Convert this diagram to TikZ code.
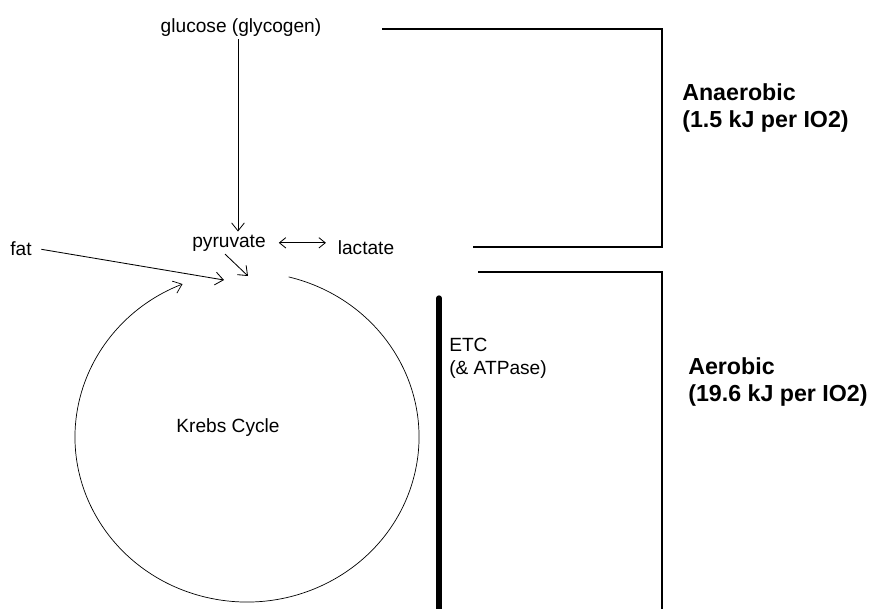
\documentclass[tikz,border=0pt]{standalone}
\usepackage{fontspec}
\setmainfont{Liberation Sans}
\usetikzlibrary{arrows.meta}
\begin{document}
\begin{tikzpicture}[
    x=0.025cm, y=0.025cm,
    lbl/.style={inner sep=2pt, font=\fontsize{13.6}{16.5}\selectfont},
    tag/.style={inner sep=0pt, align=left, font=\fontsize{16.5}{19.8}\selectfont\bfseries},
    arrow/.style={-{Straight Barb[length=2mm,width=3.2mm]}, line width=0.6pt},
    both/.style={{Straight Barb[length=1.6mm,width=2.6mm]}-{Straight Barb[length=1.6mm,width=2.6mm]}, line width=0.6pt},
    bracket/.style={line width=1.4pt},
    etcbar/.style={line width=3.8pt, line cap=round}
]
\useasboundingbox (0,0) rectangle (872,-608);

% Metabolites
\node[lbl, anchor=base] (glucose) at (241,-32) {glucose (glycogen)};
\node[lbl, anchor=base] (pyruvate) at (229,-247) {pyruvate};
\node[lbl, anchor=base] (lactate) at (366,-254) {lactate};
\node[lbl, anchor=base] (fat) at (21,-255) {fat};
\node[lbl, anchor=base] (krebs) at (228,-432) {Krebs Cycle};
\node[lbl, inner sep=0pt, anchor=west, align=left] (etc) at (449,-358) {ETC\\(\& ATPase)};

% Free ends
\coordinate (fatin) at (224,-280);
\coordinate (acetyl) at (248,-276);
\coordinate (cyc) at (247,-437);

% Arrows
\draw[arrow] ([xshift=-0.75mm]glucose.south) -- ([xshift=-0.75mm]glucose.south |- pyruvate.north);
\draw[both, shorten <=0.25cm, shorten >=0.22cm] (pyruvate.east) -- (pyruvate.east -| lactate.west);
\draw[arrow, shorten <=0.17cm] (fat.east) -- (fatin);
\draw[arrow] ([xshift=-1mm]pyruvate.south) -- (acetyl);

% Krebs cycle
\draw[arrow, line width=0.5pt] ([shift={(76:172 and 165)}]cyc) arc[start angle=76, end angle=-248, x radius=172, y radius=165];

% Energy brackets
\draw[bracket] (382,-29) -- (662,-29) -- (662,-247) -- (473,-247);
\draw[bracket] (478,-272) -- (662,-272) -- (662,-612);
\draw[etcbar] (439,-298) -- (439,-620);

\node[tag, anchor=west] (anaerobic) at (682,-108) {Anaerobic\\(1.5 kJ per IO2)};
\node[tag, anchor=west] (aerobic) at (688,-382) {Aerobic\\(19.6 kJ per IO2)};
\end{tikzpicture}
\end{document}
